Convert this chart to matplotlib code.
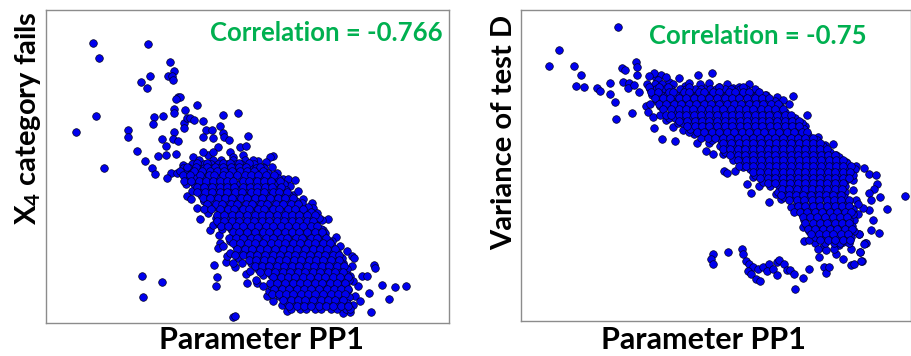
import matplotlib.pyplot as plt

plt.rcParams['font.family'] = ['Lato', 'DejaVu Sans']
plt.rcParams['mathtext.default'] = 'regular'

# point positions (picture units, y grows downwards)
left_outliers = [
    (278, 130), (445, 133), (298, 173), (509, 186), (521, 213), (503, 228), (516, 228),
    (520, 240), (449, 228), (422, 247), (441, 263), (534, 292), (541, 292), (528, 296),
    (523, 327), (521, 340), (555, 330), (590, 315), (289, 348), (228, 397), (313, 503),
    (383, 390), (383, 410), (410, 453), (435, 484), (456, 505), (466, 523), (463, 352),
    (460, 372), (489, 347), (485, 418), (497, 439), (474, 468), (499, 465), (521, 397),
    (520, 418), (527, 462), (533, 423), (551, 370), (553, 385), (560, 355), (571, 355),
    (581, 360), (670, 345), (713, 338), (610, 362), (618, 390), (636, 390), (659, 377),
    (608, 410), (638, 415), (668, 400), (673, 410), (686, 420), (745, 407), (719, 442),
    (739, 437), (820, 467), (810, 472), (773, 482), (797, 487), (512, 520), (500, 535),
    (549, 494), (560, 590), (573, 598), (601, 658), (629, 690), (657, 707), (661, 730),
    (624, 640), (848, 537), (864, 537), (884, 540), (856, 555), (880, 585), (910, 597),
    (935, 610), (940, 625), (985, 658), (970, 690), (1008, 713), (990, 745), (1040, 755),
    (1055, 768), (1062, 775), (1085, 830), (1100, 828), (1122, 797), (1124, 806),
    (1108, 880), (1147, 855), (1185, 862), (1219, 860), (1168, 897), (1112, 937),
    (1050, 830), (1075, 860), (425, 828), (486, 848), (429, 893), (641, 797), (651, 832),
    (648, 860), (677, 787), (706, 803), (738, 822), (742, 850), (772, 850), (700, 952),
    (704, 949), (801, 888), (838, 890), (1016, 920), (1050, 937), (655, 745), (680, 770),
    (715, 775), (1065, 890), (1080, 905), (1030, 940), (690, 455), (655, 440), (625, 465),
]

# loose points along the rim of the dense cloud
left_rim = [
    (590, 625), (612, 600), (640, 675), (668, 740), (690, 760), (700, 790), (725, 790),
    (750, 815), (768, 840), (790, 860), (808, 875), (820, 905), (845, 915), (860, 935),
    (600, 570), (575, 575), (830, 520), (845, 555), (870, 560), (895, 575), (905, 610),
    (950, 640), (965, 660), (975, 700), (995, 725), (1020, 740), (1030, 790), (1055, 800),
    (1060, 845), (1045, 870), (1060, 915), (580, 470), (610, 455), (640, 455), (700, 470),
    (730, 465), (760, 480), (790, 500), (815, 500),
]

left_core_rows = {
    480: [598, 640, 662, 700, 735],
    492: [575, 612, 633, 655, 681, 707, 724, 761],
    506: [548, 566, 593, 611, 638, 656, 683, 702, 727, 749, 768, 792],
    519: [531, 556, 577, 596, 621, 645, 662, 689, 713, 730, 757, 779, 803],
    535: [561, 588, 606, 633, 650, 679, 696, 724, 742, 768, 787, 815, 833],
    552: [557, 581, 598, 625, 643, 669, 690, 709, 738, 756, 778, 805, 822, 851],
    570: [609, 628, 654, 672, 699, 718, 744, 763, 785, 811, 829, 858],
    587: [602, 620, 647, 666, 688, 714, 732, 757, 781, 799, 827, 846, 868],
    604: [613, 639, 658, 684, 703, 730, 748, 775, 793, 820, 838, 865, 887],
    621: [630, 648, 675, 694, 720, 738, 765, 784, 810, 828, 855, 874, 898, 924],
    638: [664, 683, 710, 728, 754, 773, 800, 818, 845, 863, 890, 908, 934],
    655: [647, 666, 692, 710, 737, 756, 782, 800, 827, 846, 872, 890, 917, 936, 958],
    672: [657, 676, 702, 720, 747, 766, 792, 810, 837, 856, 882, 900, 927, 946],
    689: [666, 692, 710, 737, 756, 782, 800, 827, 846, 872, 890, 917, 936, 962],
    706: [700, 727, 746, 772, 790, 817, 836, 862, 880, 907, 926, 952, 970],
    723: [690, 717, 736, 762, 780, 807, 826, 852, 870, 897, 916, 942, 960, 987],
    740: [707, 726, 752, 770, 797, 816, 842, 860, 887, 906, 932, 950, 977, 996],
    757: [718, 744, 763, 790, 808, 834, 853, 880, 898, 924, 943, 970, 988, 1012],
    774: [758, 784, 803, 830, 848, 874, 893, 920, 938, 964, 983, 1010, 1026],
    791: [753, 780, 798, 824, 843, 870, 888, 914, 933, 960, 978, 1004, 1023],
    808: [774, 793, 820, 838, 864, 883, 910, 928, 954, 973, 1000, 1018, 1042],
    825: [788, 814, 833, 860, 878, 904, 923, 950, 968, 994, 1013, 1040],
    842: [826, 852, 870, 897, 916, 942, 960, 987, 1006, 1032, 1048],
    859: [813, 840, 858, 884, 903, 930, 948, 974, 993, 1020, 1038],
    876: [832, 850, 877, 896, 922, 940, 967, 986, 1012, 1030],
    893: [867, 886, 912, 930, 957, 976, 1002, 1020, 1047],
    910: [860, 878, 904, 923, 950, 968, 994, 1013, 1040],
    927: [873, 900, 918, 944, 963, 992, 1010, 1037, 1050],
}

# points lying between the rows above
left_core_rows_b = {
    488: [590, 622, 668, 690, 718, 748],
    500: [560, 588, 622, 646, 670, 694, 716, 738, 780],
    513: [540, 582, 606, 630, 651, 673, 697, 720, 741, 763, 788],
    527: [550, 570, 600, 627, 641, 668, 688, 710, 735, 752, 775, 797, 822],
    544: [552, 574, 596, 617, 640, 661, 681, 700, 728, 748, 770, 793, 812, 840],
    561: [592, 612, 636, 660, 680, 701, 729, 750, 770, 795, 815, 842],
    578: [592, 615, 637, 660, 680, 706, 726, 752, 772, 793, 818, 838, 860],
    595: [610, 630, 654, 676, 697, 722, 741, 766, 787, 810, 833, 855, 878],
    612: [622, 648, 667, 693, 712, 738, 757, 782, 802, 829, 848, 872, 894],
    629: [612, 634, 660, 684, 702, 730, 746, 774, 792, 819, 837, 864, 884, 910],
    646: [650, 672, 695, 718, 741, 765, 787, 808, 831, 854, 877, 898, 921, 944],
    663: [651, 671, 697, 716, 742, 761, 787, 806, 832, 851, 877, 896, 922, 940],
    680: [662, 684, 708, 728, 752, 775, 798, 820, 842, 864, 887, 910, 932, 952],
    697: [698, 718, 742, 764, 788, 808, 832, 854, 876, 898, 920, 944, 966],
    714: [686, 708, 730, 754, 772, 798, 818, 842, 862, 888, 907, 932, 952, 978],
    731: [698, 721, 744, 766, 789, 812, 834, 856, 878, 900, 924, 946, 968, 990],
    748: [712, 735, 757, 780, 802, 826, 848, 870, 892, 915, 938, 960, 982, 1004],
    765: [705, 728, 750, 772, 796, 818, 840, 863, 886, 908, 930, 953, 976, 998, 1018],
    782: [746, 768, 791, 814, 836, 858, 881, 904, 926, 948, 970, 992, 1016],
    799: [764, 786, 808, 830, 853, 876, 898, 920, 942, 966, 988, 1010, 1032],
    816: [780, 804, 826, 848, 870, 893, 916, 938, 960, 983, 1006, 1028],
    833: [820, 842, 864, 886, 908, 931, 954, 976, 998, 1021, 1044],
    850: [810, 832, 856, 878, 900, 922, 944, 967, 990, 1012, 1034],
    867: [822, 846, 868, 890, 912, 934, 957, 980, 1002, 1024, 1044],
    884: [815, 836, 858, 880, 902, 924, 946, 970, 992, 1014, 1036],
    901: [850, 872, 894, 916, 940, 962, 984, 1006, 1028],
    918: [866, 890, 912, 934, 956, 978, 1000, 1024, 1045],
}

right_outliers = [
    (486, 80), (308, 150), (279, 197), (354, 199), (375, 226), (360, 259), (385, 261),
    (424, 265), (432, 272), (462, 249), (462, 281), (478, 307), (479, 358), (528, 339),
    (497, 204), (506, 209), (541, 185), (543, 200), (542, 225), (500, 245), (520, 250),
    (515, 265), (535, 255), (550, 275), (570, 317), (577, 336), (590, 350), (594, 384),
    (619, 418), (657, 424), (670, 235), (688, 257), (725, 226), (769, 218), (745, 265),
    (790, 260), (830, 265), (962, 291), (1011, 288), (1052, 346), (1000, 312), (964, 319),
    (1048, 378), (1085, 410), (1106, 436), (1131, 432), (1140, 466), (1125, 488),
    (1170, 485), (1201, 497), (1225, 504), (1239, 520), (1260, 523), (1264, 551),
    (1253, 567), (1238, 579), (1272, 589), (1294, 626), (1348, 587), (1245, 600),
    (1240, 630), (1250, 660), (1245, 690), (1268, 697), (1222, 623), (1190, 570),
    (1205, 640), (1210, 700), (1228, 727), (1212, 755), (1217, 783), (1045, 722),
    (1078, 728), (1081, 697), (1040, 680), (803, 513), (812, 518), (836, 512), (872, 552),
    (908, 557), (885, 579), (940, 605), (975, 595), (770, 463), (750, 453), (723, 430),
    (715, 402), (745, 400), (680, 390), (650, 380), (630, 360), (612, 345), (583, 312),
    (600, 235), (615, 225), (595, 220), (640, 245),
]

right_rim = [
    (580, 228), (605, 240), (630, 232), (700, 248), (760, 250), (850, 262), (905, 275),
    (930, 285), (980, 300), (1190, 540), (1200, 600), (1195, 660), (1205, 610),
    (1180, 720), (1150, 735), (1100, 740), (1060, 720), (1030, 610), (1005, 620),
    (960, 580), (920, 545), (890, 530), (860, 500), (830, 480), (800, 462), (760, 430),
    (735, 415), (700, 395), (665, 370), (640, 355),
]

right_core_rows = {
    252: [572, 596, 618, 652, 733, 812, 880],
    268: [581, 600, 627, 645, 672, 690, 717, 736, 762, 780, 807, 826, 852, 870, 897],
    285: [588, 614, 633, 660, 678, 704, 723, 750, 768, 794, 813, 840, 858, 884, 903, 926],
    302: [602, 620, 647, 666, 692, 710, 737, 756, 782, 800, 827, 846, 872, 890, 917, 936, 958],
    319: [613, 639, 658, 684, 703, 730, 748, 775, 793, 820, 838, 865, 883, 910, 928, 955, 973],
    336: [650, 677, 696, 722, 740, 767, 786, 812, 830, 857, 876, 902, 920, 947, 966, 988],
    353: [658, 684, 703, 730, 748, 775, 793, 820, 838, 865, 883, 910, 928, 955, 973, 1000, 1016],
    370: [682, 700, 727, 746, 772, 790, 817, 836, 862, 880, 907, 926, 952, 970, 997, 1016, 1037],
    387: [703, 730, 748, 775, 793, 820, 838, 865, 883, 910, 928, 955, 973, 1000, 1018, 1044],
    404: [760, 787, 806, 832, 850, 877, 896, 922, 940, 967, 986, 1012, 1030, 1057],
    421: [768, 794, 813, 840, 858, 884, 903, 930, 948, 974, 993, 1020, 1038, 1064, 1083],
    438: [792, 810, 837, 856, 882, 900, 927, 946, 972, 990, 1017, 1036, 1062, 1080, 1102],
    455: [808, 834, 853, 880, 898, 924, 943, 970, 988, 1014, 1033, 1060, 1078, 1104, 1123],
    472: [856, 882, 900, 927, 946, 972, 990, 1017, 1036, 1062, 1080, 1107, 1126, 1148],
    489: [858, 884, 903, 930, 948, 974, 993, 1020, 1038, 1064, 1083, 1110, 1128, 1154, 1173],
    506: [882, 900, 927, 946, 972, 990, 1017, 1036, 1062, 1080, 1107, 1126, 1152, 1170, 1197],
    523: [898, 924, 943, 970, 988, 1014, 1033, 1060, 1078, 1104, 1123, 1150, 1168, 1192],
    540: [946, 972, 990, 1017, 1036, 1062, 1080, 1107, 1126, 1152, 1170],
    557: [943, 970, 988, 1014, 1033, 1060, 1078, 1104, 1123, 1150, 1168],
    574: [967, 986, 1012, 1030, 1057, 1076, 1102, 1120, 1147, 1166],
    591: [983, 1010, 1028, 1054, 1073, 1100, 1118, 1144, 1163],
    608: [1022, 1040, 1067, 1086, 1112, 1130, 1157, 1176],
    625: [1028, 1054, 1073, 1100, 1118, 1144, 1163, 1190],
    642: [1037, 1056, 1082, 1100, 1127, 1146, 1172, 1190],
    659: [1043, 1070, 1088, 1114, 1133, 1160, 1178],
    676: [1052, 1070, 1097, 1116, 1142, 1160, 1187],
    693: [1058, 1084, 1103, 1130, 1148, 1174, 1193],
    710: [1077, 1096, 1122, 1140, 1167, 1186],
    727: [1108, 1134, 1153, 1180],
}

right_core_rows_b = {
    260: [578, 610, 636, 700, 790, 860],
    277: [585, 607, 638, 652, 683, 700, 728, 745, 772, 790, 818, 836, 862, 880, 910],
    294: [596, 620, 642, 668, 690, 714, 736, 760, 782, 806, 828, 850, 874, 896, 918, 940],
    311: [608, 630, 654, 676, 698, 720, 744, 766, 788, 812, 834, 856, 878, 900, 922, 946, 966],
    328: [622, 645, 668, 690, 712, 735, 758, 780, 802, 824, 848, 870, 892, 914, 936, 958, 980],
    345: [630, 645, 668, 690, 714, 736, 760, 782, 806, 828, 850, 872, 896, 918, 940, 962, 986, 1006],
    362: [670, 694, 716, 738, 760, 784, 806, 828, 852, 874, 896, 918, 940, 964, 986, 1008, 1028],
    379: [692, 716, 738, 760, 784, 806, 828, 852, 874, 896, 918, 942, 964, 986, 1008, 1030],
    396: [722, 744, 768, 790, 812, 834, 858, 880, 902, 924, 948, 970, 992, 1014, 1038, 1052],
    413: [755, 778, 800, 822, 846, 868, 890, 912, 936, 958, 980, 1004, 1026, 1048, 1070],
    430: [802, 826, 848, 870, 892, 916, 938, 960, 982, 1006, 1028, 1050, 1072, 1092],
    447: [800, 822, 846, 868, 890, 912, 936, 958, 980, 1002, 1026, 1048, 1070, 1092, 1114],
    464: [822, 846, 868, 890, 914, 936, 958, 980, 1004, 1026, 1048, 1070, 1094, 1116, 1138],
    481: [846, 870, 892, 914, 938, 960, 982, 1006, 1028, 1050, 1072, 1096, 1118, 1140, 1162],
    498: [850, 870, 892, 914, 938, 960, 982, 1006, 1028, 1050, 1072, 1096, 1118, 1140, 1162, 1184],
    515: [890, 912, 936, 958, 980, 1002, 1026, 1048, 1070, 1092, 1116, 1138, 1160, 1182],
    532: [912, 936, 958, 980, 1002, 1026, 1048, 1070, 1092, 1116, 1138, 1160, 1180],
    549: [936, 958, 980, 1002, 1026, 1048, 1070, 1092, 1114, 1138, 1160],
    566: [978, 1000, 1022, 1046, 1068, 1090, 1112, 1136, 1158],
    583: [975, 998, 1020, 1042, 1064, 1088, 1110, 1132, 1154],
    600: [1000, 1022, 1045, 1068, 1090, 1112, 1134, 1156, 1178],
    617: [1025, 1048, 1070, 1092, 1114, 1136, 1158, 1180],
    634: [1015, 1032, 1054, 1076, 1098, 1122, 1144, 1166, 1186],
    651: [1040, 1062, 1084, 1106, 1130, 1152, 1174],
    668: [1048, 1070, 1092, 1114, 1136, 1158, 1180],
    685: [1055, 1077, 1100, 1122, 1144, 1166, 1188],
    702: [1066, 1088, 1110, 1132, 1154, 1176],
    719: [1092, 1115, 1138, 1160, 1182],
}

# small group of points below the main band on the right
right_tail = [
    (770, 760), (765, 775), (770, 792), (817, 756), (858, 745), (862, 760), (870, 782),
    (880, 790), (890, 800), (875, 812), (885, 822), (900, 835), (912, 842), (905, 805),
    (920, 800), (940, 790), (932, 812), (950, 805), (962, 785), (968, 780), (985, 792),
    (992, 808), (1003, 808), (1015, 820), (962, 825), (1040, 834), (1018, 867),
    (1060, 805), (1090, 770), (1105, 800), (1110, 818), (1120, 800), (1140, 760),
    (1160, 775), (1185, 795), (1195, 790), (1215, 783), (1212, 755), (1185, 745),
    (1230, 727), (1210, 700), (1225, 730), (1085, 745), (1110, 748), (1135, 745),
    (1160, 725),
]

corr_left = -0.766
corr_right = -0.75


def collect(row_sets, extra):
    xs = [p[0] for p in extra]
    ys = [p[1] for p in extra]
    for rows in row_sets:
        for y, row in rows.items():
            xs += row
            ys += [y] * len(row)
    return xs, ys


fig = plt.figure(figsize=(9.12, 3.56), dpi=100)
ax1 = fig.add_axes([0.0504, 0.0927, 0.4419, 0.8792])
ax2 = fig.add_axes([0.5713, 0.0983, 0.4276, 0.8736])

x1, y1 = collect([left_core_rows, left_core_rows_b], left_outliers + left_rim)
x2, y2 = collect([right_core_rows, right_core_rows_b], right_outliers + right_rim + right_tail)

for ax, xs, ys in [(ax1, x1, y1), (ax2, x2, y2)]:
    ax.scatter(xs, ys, s=30, c='#0000ee', edgecolors='#000022', linewidths=0.5)
    ax.set_xticks([])
    ax.set_yticks([])
    for sp in ax.spines.values():
        sp.set_color('#8c8c8c')
        sp.set_linewidth(1.0)

ax1.set_xlim(138, 1347)
ax1.set_ylim(970, 30)
ax2.set_xlim(195, 1365)
ax2.set_ylim(962, 30)

green = '#00b050'
ax1.text(0.985, 0.925, 'Correlation = {}'.format(corr_left), transform=ax1.transAxes,
         ha='right', va='center', color=green, fontsize=18.5, fontweight='bold')
ax2.text(0.608, 0.917, 'Correlation = {}'.format(corr_right), transform=ax2.transAxes,
         ha='center', va='center', color=green, fontsize=18.5, fontweight='bold')

fig.text(261 / 912, 1 - 340 / 356, 'Parameter PP1', ha='center', va='center',
         fontsize=22, fontweight='bold')
fig.text(703 / 912, 1 - 340 / 356, 'Parameter PP1', ha='center', va='center',
         fontsize=22, fontweight='bold')
fig.text(28 / 912, 1 - 118 / 356, 'X$_4$ category fails', ha='center', va='center',
         rotation=90, fontsize=21, fontweight='bold')
fig.text(504 / 912, 1 - 132 / 356, 'Variance of test D', ha='center', va='center',
         rotation=90, fontsize=21, fontweight='bold')

fig.savefig('out.png', dpi=100)
